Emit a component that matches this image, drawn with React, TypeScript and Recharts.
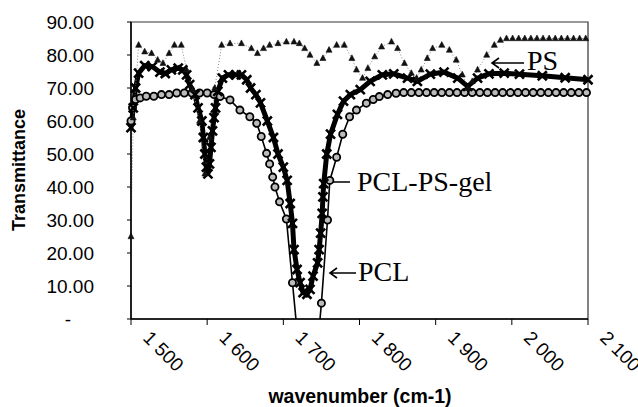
import React from 'react';
import { LineChart, Line, XAxis, YAxis, ReferenceArea } from 'recharts';

// PS (triangles)
const psWn = [1500, 1503, 1510, 1518, 1527, 1535, 1542, 1550, 1557, 1566, 1573, 1581, 1590, 1597, 1603, 1610, 1619, 1630, 1645, 1658, 1666, 1674, 1682, 1693, 1704, 1714, 1721, 1728, 1735, 1744, 1752, 1760, 1770, 1780, 1790, 1796, 1804, 1811, 1820, 1829, 1842, 1850, 1859, 1868, 1875, 1881, 1889, 1896, 1908, 1918, 1927, 1935, 1942, 1948, 1955, 1967, 1977, 1985, 1993, 2001, 2009, 2017, 2025, 2033, 2041, 2049, 2057, 2065, 2073, 2081, 2089, 2097];
const psT = [25, 61, 83, 81, 80.5, 78.5, 77.5, 80.5, 83, 83, 75.5, 69.5, 60, 44, 55, 70, 83, 83.5, 83.5, 82, 80.5, 82, 83, 83.5, 84, 84, 83.5, 82, 80, 77.5, 79, 81.5, 83, 83, 79, 75.5, 73, 76, 79.5, 82.5, 84, 82, 77.5, 74.5, 73, 75.5, 79, 82, 83, 81.5, 78.5, 74, 70, 72, 75.5, 80, 83, 84.5, 85, 85, 85, 85, 85, 85, 85, 85, 85, 85, 85, 85, 85, 85];

// PCL (circles)
const pclWn = [1500, 1502, 1506, 1512, 1520, 1530, 1540, 1550, 1560, 1570, 1580, 1590, 1600, 1609, 1617, 1630, 1643, 1656, 1665, 1671, 1678, 1682, 1686, 1689, 1695, 1704, 1712, 1733, 1750, 1758, 1761, 1770, 1778, 1787, 1796, 1809, 1818, 1826, 1837, 1848, 1858, 1868, 1878, 1888, 1898, 1908, 1918, 1928, 1938, 1948, 1958, 1968, 1978, 1988, 1998, 2008, 2018, 2028, 2038, 2048, 2058, 2068, 2078, 2088, 2098];
const pclT = [60, 64, 66.5, 67, 67.5, 67.5, 68, 68, 68.5, 68.5, 68.5, 68.5, 68.5, 68, 67.4, 66.4, 63.3, 61.3, 59.3, 55.3, 50.2, 47, 43, 40, 35.5, 30.3, 11, -40, 4.8, 30, 42, 49, 56, 61.3, 63.3, 65.4, 66.5, 67.4, 68, 68.4, 68.6, 68.6, 68.6, 68.6, 68.6, 68.6, 68.6, 68.6, 68.6, 68.6, 68.6, 68.6, 68.6, 68.6, 68.6, 68.6, 68.6, 68.6, 68.6, 68.6, 68.6, 68.6, 68.6, 68.6, 68.6];

// PCL-PS-gel (crosses)
const gelWn = [1500, 1503, 1506, 1510, 1518, 1528, 1538, 1545, 1553, 1562, 1568, 1573, 1577, 1584, 1588, 1593, 1595, 1597, 1599, 1601, 1603, 1605, 1607, 1609, 1611, 1614, 1620, 1628, 1638, 1645, 1652, 1657, 1664, 1670, 1679, 1687, 1693, 1700, 1705, 1709, 1712, 1714, 1718, 1722, 1726, 1731, 1735, 1739, 1745, 1747, 1749, 1751, 1752, 1753, 1757, 1762, 1771, 1779, 1788, 1801, 1814, 1830, 1845, 1863, 1876, 1893, 1911, 1929, 1942, 1955, 1970, 1990, 2010, 2040, 2070, 2100];
const gelT = [58, 64, 70, 74.5, 76.8, 76.5, 74.8, 74.4, 75.5, 76, 75.5, 74, 71, 68, 64, 60, 55, 50, 46, 44, 47, 52, 57, 61, 64, 69, 73, 74, 74, 74, 72.5, 70, 68, 65.5, 60, 55, 50, 46, 42, 35, 29, 21, 15, 11, 8, 7.5, 9, 13, 17, 21, 26, 32, 37, 41, 50, 56, 62, 66, 68, 69.5, 72, 74, 74.3, 73, 72, 74.2, 74.8, 73, 70.5, 73, 74.3, 74.5, 74.2, 73.7, 73.1, 72.5];

const xTicks = [1500, 1600, 1700, 1800, 1900, 2000, 2100];
const yTicks = [0, 10, 20, 30, 40, 50, 60, 70, 80, 90];

const toRows = (wn: number[], t: number[]) => wn.map((w, i) => ({ wn: w, t: t[i] }));
const psData = toRows(psWn, psT);
const pclData = toRows(pclWn, pclT);
const gelData = toRows(gelWn, gelT);

const sans = '"Liberation Sans", Arial, sans-serif';
const serif = '"Liberation Serif", "Times New Roman", serif';

function XTick(props: any) {
  const { x, payload } = props;
  const v = payload.value as number;
  const label = `${Math.floor(v / 1000)}\u00a0${String(v % 1000).padStart(3, '0')}`;
  const bx = x + 11;
  const by = 339;
  return (
    <text x={bx} y={by} transform={`rotate(45 ${bx} ${by})`} fontFamily={sans} fontSize={19} fill="#000" textAnchor="start">
      {label}
    </text>
  );
}

function YTick(props: any) {
  const { y, payload } = props;
  const v = payload.value as number;
  if (v === 0) {
    return (
      <text x={68} y={y} dy="0.35em" fontFamily={sans} fontSize={19} fill="#000" textAnchor="middle">-</text>
    );
  }
  return (
    <text x={94} y={y} dy="0.35em" fontFamily={sans} fontSize={19} fill="#000" textAnchor="end">
      {v.toFixed(2)}
    </text>
  );
}

const TriDot = (p: any) => {
  if (p.cx == null || p.cy == null) return <g key={p.index} />;
  return <path key={p.index} d={`M${p.cx},${p.cy - 3.5} L${p.cx + 3},${p.cy + 2.2} L${p.cx - 3},${p.cy + 2.2} Z`} fill="#111" stroke="#111" strokeWidth={0.6} />;
};

const CircleDot = (p: any) => {
  if (p.cx == null || p.cy == null) return <g key={p.index} />;
  return <circle key={p.index} cx={p.cx} cy={p.cy} r={3.6} fill="#bbb" stroke="#000" strokeWidth={1.8} />;
};

const CrossDot = (p: any) => {
  if (p.cx == null || p.cy == null) return <g key={p.index} />;
  const s = 4.5;
  return (
    <path
      key={p.index}
      d={`M${p.cx - s},${p.cy - s} L${p.cx + s},${p.cy + s} M${p.cx + s},${p.cy - s} L${p.cx - s},${p.cy + s}`}
      stroke="#000"
      strokeWidth={2.6}
    />
  );
};

// left-pointing arrow used by the text callouts
const Arrow = ({ x1, x2, y }: { x1: number; x2: number; y: number }) => (
  <path d={`M${x2},${y} L${x1},${y} M${x1 + 7},${y - 5} L${x1},${y} L${x1 + 7},${y + 5}`} stroke="#000" strokeWidth={1.6} fill="none" />
);

export default function App() {
  return (
    <div style={{ position: 'absolute', left: 0, top: 0, width: 638, height: 407, background: '#fff' }}>
      <LineChart width={638} height={407} margin={{ top: 22, right: 50, bottom: 0, left: 0 }}>
        <XAxis
          type="number"
          dataKey="wn"
          domain={[1500, 2100]}
          ticks={xTicks}
          height={88}
          tick={<XTick />}
          tickSize={6}
          axisLine={{ stroke: '#000', strokeWidth: 1.5 }}
          tickLine={{ stroke: '#000' }}
          interval={0}
        />
        <YAxis
          type="number"
          dataKey="t"
          domain={[0, 90]}
          ticks={yTicks}
          allowDataOverflow
          width={131}
          tick={<YTick />}
          tickSize={4}
          axisLine={{ stroke: '#000', strokeWidth: 1.5 }}
          tickLine={{ stroke: '#000' }}
          interval={0}
        />
        <ReferenceArea x1={1500} x2={2100} y1={0} y2={90} fill="none" stroke="#333" strokeWidth={1.2} />
        <Line
          data={pclData}
          dataKey="t"
          type="linear"
          stroke="#000"
          strokeWidth={1.6}
          dot={CircleDot}
          isAnimationActive={false}
        />
        <Line
          data={gelData}
          dataKey="t"
          type="linear"
          stroke="#000"
          strokeWidth={5}
          dot={CrossDot}
          isAnimationActive={false}
        />
        <Line
          data={psData}
          dataKey="t"
          type="linear"
          stroke="#888"
          strokeWidth={1}
          strokeDasharray="1 2"
          dot={TriDot}
          isAnimationActive={false}
        />
      </LineChart>
      <svg width={638} height={407} style={{ position: 'absolute', left: 0, top: 0, pointerEvents: 'none' }}>
        <text x={19} y={170} transform="rotate(-90 19 170)" dy="0.35em" textAnchor="middle" fontFamily={sans} fontWeight="bold" fontSize={18} fill="#000">
          Transmittance
        </text>
        <text x={360} y={403} textAnchor="middle" fontFamily={sans} fontWeight="bold" fontSize={19.5} fill="#000">
          wavenumber (cm-1)
        </text>
        <Arrow x1={492} x2={524} y={63} />
        <text x={527} y={70} fontFamily={serif} fontSize={28} fill="#000">PS</text>
        <line x1={333} y1={182} x2={350} y2={182} stroke="#000" strokeWidth={1.5} />
        <text x={357} y={191} fontFamily={serif} fontSize={28} fill="#000">PCL-PS-gel</text>
        <Arrow x1={330} x2={356} y={273} />
        <text x={358} y={281} fontFamily={serif} fontSize={28} fill="#000">PCL</text>
      </svg>
    </div>
  );
}
